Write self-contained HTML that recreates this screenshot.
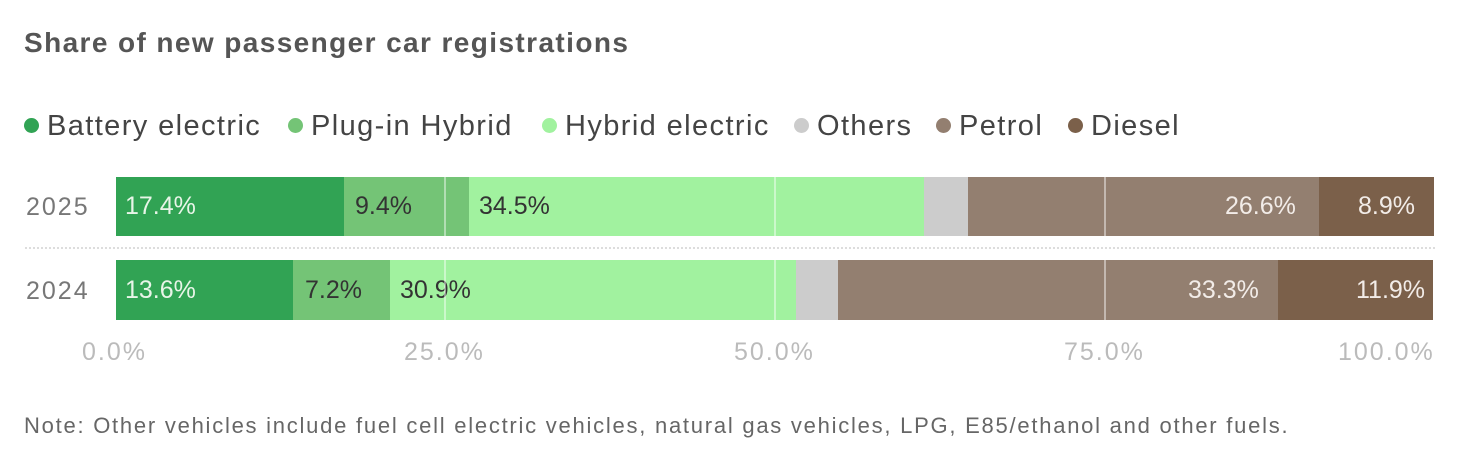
<!DOCTYPE html>
<html><head><meta charset="utf-8"><style>
body{margin:0;width:1480px;height:449px;background:#fff;font-family:"Liberation Sans",sans-serif;position:relative;overflow:hidden}
.a{position:absolute;white-space:nowrap}
.seg{position:absolute;height:59px}
.lbl{position:absolute;font-size:25px;line-height:59px}
.g{position:absolute;width:2px;background:rgba(255,255,255,0.45);top:177px;height:143px}
.dot{display:inline-block;width:15px;height:15px;border-radius:50%;margin-right:8px;vertical-align:2px}
.lg{position:absolute;top:110px;font-size:29px;color:#444;letter-spacing:1.4px;white-space:nowrap}
.ax{position:absolute;top:338px;font-size:25px;color:#bbb;letter-spacing:2px}
</style></head><body>
<div class="a" style="left:24px;top:27px;font-size:28px;font-weight:bold;color:#555;letter-spacing:1.4px">Share of new passenger car registrations</div>
<div class="lg" style="left:24px"><span class="dot" style="background:#31a354"></span>Battery electric</div>
<div class="lg" style="left:288px"><span class="dot" style="background:#74c476"></span>Plug-in Hybrid</div>
<div class="lg" style="left:542px"><span class="dot" style="background:#a1f29f"></span>Hybrid electric</div>
<div class="lg" style="left:794px"><span class="dot" style="background:#cccccc"></span>Others</div>
<div class="lg" style="left:936px"><span class="dot" style="background:#937f70"></span>Petrol</div>
<div class="lg" style="left:1068px"><span class="dot" style="background:#7b604a"></span>Diesel</div>

<div class="a" style="left:26px;top:178px;line-height:59px;font-size:25px;color:#777;letter-spacing:2px">2025</div>
<div class="a" style="left:26px;top:261px;line-height:60px;font-size:25px;color:#777;letter-spacing:2px">2024</div>

<div style="position:absolute;top:177px;left:0">
<div class="seg" style="left:116px;width:228px;background:#31a354"></div>
<div class="seg" style="left:344px;width:125px;background:#74c476"></div>
<div class="seg" style="left:469px;width:455px;background:#a1f29f"></div>
<div class="seg" style="left:924px;width:44px;background:#cccccc"></div>
<div class="seg" style="left:968px;width:351px;background:#937f70"></div>
<div class="seg" style="left:1319px;width:115px;background:#7b604a"></div>
<div class="lbl" style="left:125px;color:#e8f5e8">17.4%</div>
<div class="lbl" style="left:355px;color:#333">9.4%</div>
<div class="lbl" style="left:479px;color:#333">34.5%</div>
<div class="lbl" style="left:1225px;color:#f2ece8">26.6%</div>
<div class="lbl" style="left:1358px;color:#f2ece8">8.9%</div>
</div>
<div style="position:absolute;top:260px;left:0">
<div class="seg" style="left:116px;width:177px;height:60px;background:#31a354"></div>
<div class="seg" style="left:293px;width:97px;height:60px;background:#74c476"></div>
<div class="seg" style="left:390px;width:406px;height:60px;background:#a1f29f"></div>
<div class="seg" style="left:796px;width:42px;height:60px;background:#cccccc"></div>
<div class="seg" style="left:838px;width:440px;height:60px;background:#937f70"></div>
<div class="seg" style="left:1278px;width:155px;height:60px;background:#7b604a"></div>
<div class="lbl" style="left:125px;line-height:60px;color:#e8f5e8">13.6%</div>
<div class="lbl" style="left:305px;line-height:60px;color:#333">7.2%</div>
<div class="lbl" style="left:400px;line-height:60px;color:#333">30.9%</div>
<div class="lbl" style="left:1188px;line-height:60px;color:#f2ece8">33.3%</div>
<div class="lbl" style="left:1356px;line-height:60px;color:#f2ece8">11.9%</div>
</div>
<div class="g" style="left:444px"></div>
<div class="g" style="left:774px"></div>
<div class="g" style="left:1104px"></div>
<div style="position:absolute;left:25px;width:1410px;top:247px;border-top:2px dotted #ddd"></div>

<div class="ax" style="left:82px">0.0%</div>
<div class="ax" style="left:404px">25.0%</div>
<div class="ax" style="left:734px">50.0%</div>
<div class="ax" style="left:1064px">75.0%</div>
<div class="ax" style="left:1338px">100.0%</div>

<div class="a" style="left:24px;top:413px;font-size:22px;color:#666;letter-spacing:1.75px">Note: Other vehicles include fuel cell electric vehicles, natural gas vehicles, LPG, E85/ethanol and other fuels.</div>
</body></html>
